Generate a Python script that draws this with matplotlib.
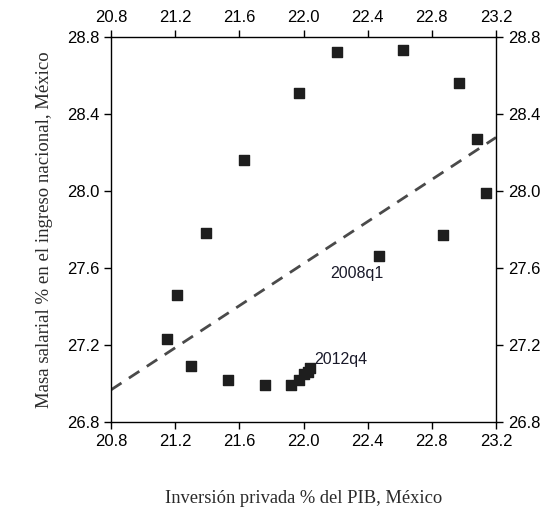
import numpy as np
import matplotlib
matplotlib.use("Agg")
import matplotlib.pyplot as plt

# Datos: 2008q1 ... 2012q4
trimestres = ["2008q1", "2008q2", "2008q3", "2008q4", "2009q1", "2009q2", "2009q3",
              "2009q4", "2010q1", "2010q2", "2010q3", "2010q4", "2011q1", "2011q2",
              "2011q3", "2011q4", "2012q1", "2012q2", "2012q3", "2012q4"]
inversion = [22.47, 22.87, 23.14, 23.08, 22.97, 22.62, 22.21, 21.97, 21.63, 21.39,
             21.21, 21.15, 21.30, 21.53, 21.76, 21.92, 21.97, 22.00, 22.03, 22.04]
masa_salarial = [27.66, 27.77, 27.99, 28.27, 28.56, 28.73, 28.72, 28.51, 28.16, 27.78,
                 27.46, 27.23, 27.09, 27.02, 26.99, 26.99, 27.02, 27.05, 27.06, 27.08]
ticks = [20.8, 21.2, 21.6, 22.0, 22.4, 22.8, 23.2]
yticks = [26.8, 27.2, 27.6, 28.0, 28.4, 28.8]

x = np.array(inversion)
y = np.array(masa_salarial)

# Ajuste lineal
b, a = np.polyfit(x, y, 1)
xx = np.array([20.8, 23.2])

fig = plt.figure(figsize=(5.46, 5.07), dpi=100)
ax = fig.add_axes([111/546, 1 - 422/507, 385/546, 385/507])

ax.plot(xx, a + b*xx, color="#4a4a4a", lw=2, ls=(0, (4.5, 3.2)))
ax.scatter(x, y, marker="s", s=50, color="#1e1e1e", zorder=3)

ax.annotate(trimestres[0], (x[0], y[0]), xytext=(3, -7), textcoords="offset points",
            ha="right", va="top", fontsize=11.5, color="#1a1a2a", family="Liberation Sans")
ax.annotate(trimestres[-1], (x[-1], y[-1]), xytext=(3, 6), textcoords="offset points",
            ha="left", va="center", fontsize=11.5, color="#1a1a2a", family="Liberation Sans")

ax.set_xlim(20.8, 23.2)
ax.set_ylim(26.8, 28.8)
ax.set_xticks(ticks)
ax.set_yticks(yticks)
ax.xaxis.set_major_formatter(matplotlib.ticker.FormatStrFormatter("%.1f"))
ax.yaxis.set_major_formatter(matplotlib.ticker.FormatStrFormatter("%.1f"))
ax.tick_params(direction="out", length=5, width=1, labelsize=12,
               top=True, right=True, labeltop=True, labelright=True)
for lab in ax.get_xticklabels() + ax.get_yticklabels():
    lab.set_family("Liberation Sans")
for s in ax.spines.values():
    s.set_linewidth(1)

ax.set_xlabel("Inversión privada % del PIB, México", family="Liberation Serif",
              fontsize=13.3, color="#2a2a2a", labelpad=30)
ax.set_ylabel("Masa salarial % en el ingreso nacional, México", family="Liberation Serif",
              fontsize=13.5, color="#2a2a2a", labelpad=10)

fig.savefig("out.png", dpi=100)
